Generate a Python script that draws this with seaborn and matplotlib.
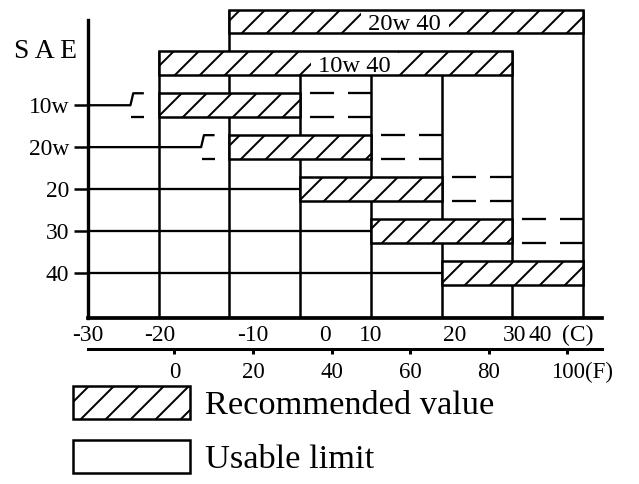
import numpy as np
import matplotlib
matplotlib.use("Agg")
import matplotlib.pyplot as plt
import seaborn as sns
from matplotlib.patches import Patch, Rectangle
from matplotlib.transforms import ScaledTranslation

# SAE grades, top to bottom, temperature ranges in deg C
grades = ["20w 40", "10w 40", "10w", "20w", "20", "30", "40"]
multigrade = [True, True, False, False, False, False, False]
rec_lo = [-10, -20, -20, -10, 0, 10, 20]   # recommended value
rec_hi = [40, 30, 0, 10, 20, 30, 40]
use_lo = [-10, -20, -24, -14, 0, 10, 20]   # usable limit
use_hi = [40, 30, 10, 20, 30, 40, 40]

col_edges = [-20, -10, 0, 10, 20, 30, 40]
c_labels = ["-30", "-20", "-10", "0", "10", "20", "30", "40", "(C)"]
f_ticks = [0, 20, 40, 60, 80, 100]
f_labels = ["0", "20", "40", "60", "80", "100(F)"]

# where the labels sit in the picture (layout only)
c_label_x = [-30, -19.8, -6.7, 3.5, 10.0, 21.8, 30.3, 33.9, 39.3]
bar_label_x = [14.8, 7.7]

sns.set_style("white")
plt.rcParams["font.family"] = ["Liberation Serif", "DejaVu Serif"]
plt.rcParams["hatch.linewidth"] = 1.9
plt.rcParams["lines.scale_dashes"] = False
for k in ["axes.edgecolor", "text.color", "xtick.color", "ytick.color", "axes.labelcolor"]:
    plt.rcParams[k] = "black"

DPI = 75
PX = 72 / DPI  # points per pixel
fig = plt.figure(figsize=(639 / DPI, 484 / DPI), dpi=DPI)
ax = fig.add_axes([88 / 639, 1 - 318 / 484, 514 / 639, 310 / 484])

rows = np.arange(len(grades))
h = 0.286
x0, x1 = -30, 42.7
y_bot, y_top = 7.08, -0.322
ax.set_xlim(x0, x1)
ax.set_ylim(y_bot, y_top)

LW = 2.4

# column lines / usable boxes
for e in col_edges:
    top = 1 + h
    for r in rows:
        if multigrade[r] and e in (rec_lo[r], rec_hi[r]):
            top = min(top, r - h)
    ax.vlines(e, top, y_bot, color="black", lw=LW, zorder=1)

# row lines, steps and dashed usable extensions
dash = (28 * PX, (24 * PX, 14 * PX))
for r in rows:
    if multigrade[r]:
        continue
    lo, ulo = rec_lo[r], use_lo[r]
    if ulo < lo:
        ax.plot([x0, ulo, ulo + 0.4, ulo + 1.9], [r, r, r - h, r - h],
                color="black", lw=2.2, zorder=1, solid_capstyle="butt")
        ax.plot([ulo + 0.1, ulo + 1.9], [r + h, r + h], color="black", lw=2.2,
                zorder=1, solid_capstyle="butt")
    else:
        ax.plot([x0, lo], [r, r], color="black", lw=2.2, zorder=1)
    if use_hi[r] > rec_hi[r]:
        for yy in (r - h, r + h):
            ax.plot([rec_hi[r], use_hi[r]], [yy, yy], color="black", lw=2.2,
                    linestyle=dash, zorder=1, dash_capstyle="butt")

# recommended ranges: hatch fill, label gaps, then borders on top
widths = np.array(rec_hi) - np.array(rec_lo)
ax.barh(rows, widths, left=rec_lo, height=2 * h, color="white",
        edgecolor="black", linewidth=0, hatch="/", zorder=2)
for r, lx in zip([0, 1], bar_label_x):
    ax.add_patch(Rectangle((lx - 6.2, r - h), 12.4, 2 * h, facecolor="white",
                           edgecolor="none", zorder=3))
    ax.text(lx, r + 0.08, grades[r], ha="center", va="center", fontsize=23.5, zorder=3.5)
ax.barh(rows, widths, left=rec_lo, height=2 * h, fill=False,
        edgecolor="black", linewidth=LW, zorder=4)

sns.despine(ax=ax, top=True, right=True)
ax.spines["left"].set_linewidth(3.2)
ax.spines["left"].set_bounds(y_bot, -0.036)
ax.spines["bottom"].set_linewidth(3.6)

single = [r for r in rows if not multigrade[r]]
ax.set_yticks(single, [grades[r] for r in single])
ax.tick_params(axis="y", left=True, length=13.4, width=2.4, pad=4.8,
               labelsize=22.5, direction="out")
ax.set_xticks(c_label_x, c_labels)
ax.tick_params(axis="x", bottom=True, length=0, pad=6.5, labelsize=22.5)


def c2f(c):
    return c * 9 / 5 + 32


def f2c(f):
    return (f - 32) * 5 / 9


sec = ax.secondary_xaxis(-31 / 310, functions=(c2f, f2c))
sec.set_xticks(f_ticks, f_labels)
sec.tick_params(bottom=True, length=5, width=2.9, pad=7, labelsize=22, direction="out")
sec.spines["bottom"].set_linewidth(2.9)
lab = sec.get_xticklabels()[-1]
lab.set_ha("left")
lab.set_transform(lab.get_transform() + ScaledTranslation(-16 / DPI, 0, fig.dpi_scale_trans))

fig.text(46 / 639, 1 - 51 / 484, "S A E", ha="center", va="center", fontsize=26.5)

handles = [
    Patch(facecolor="white", edgecolor="black", hatch="/", linewidth=LW, label="Recommended value"),
    Patch(facecolor="white", edgecolor="black", linewidth=LW, label="Usable limit"),
]
fig.legend(handles=handles, loc="upper left", bbox_to_anchor=(73 / 639, 1 - 386 / 484),
           frameon=False, fontsize=33, handlelength=3.4, handleheight=1.1,
           handletextpad=0.43, labelspacing=0.55, borderpad=0, borderaxespad=0)

fig.savefig("out.png", dpi=DPI)
plt.close(fig)
